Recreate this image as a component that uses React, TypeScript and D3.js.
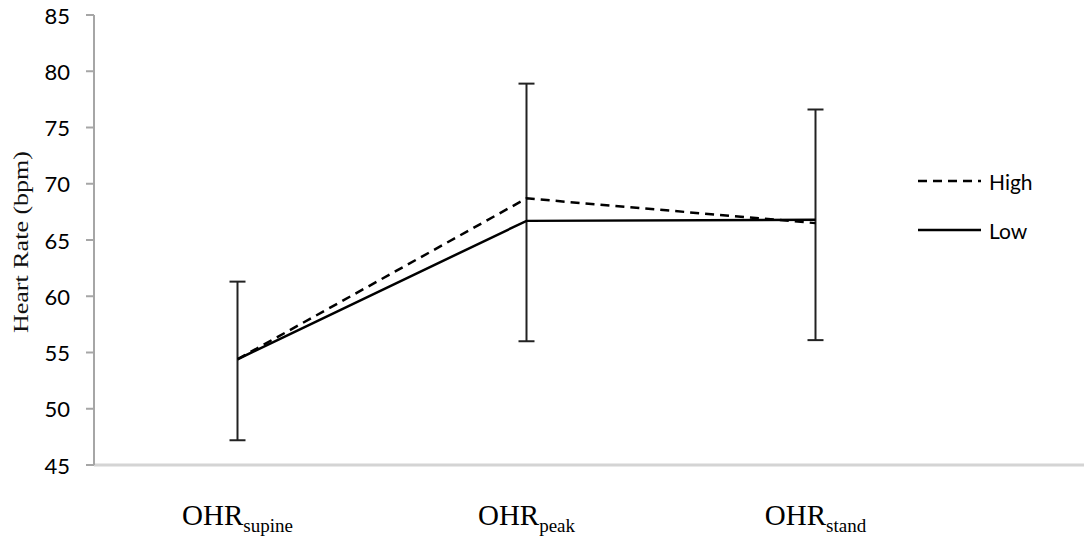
import * as d3 from 'd3'
import React, { useRef, useEffect } from 'react'

const categories = ['supine', 'peak', 'stand']
const highMeans = [54.4, 68.7, 66.5]
const lowMeans = [54.4, 66.7, 66.8]
const errUpper = [61.3, 78.9, 76.6]
const errLower = [47.2, 56.0, 56.1]
const yTicks = [45, 50, 55, 60, 65, 70, 75, 80, 85]

const W = 1084
const H = 540

const App = () => {
  const ref = useRef<SVGGElement>(null)

  useEffect(() => {
    const g = d3.select(ref.current)
    g.selectAll('*').remove()

    const x = d3.scaleBand().domain(categories).range([93, 960])
    const y = d3.scaleLinear().domain([45, 85]).range([465, 15])
    const cx = (c: string) => (x(c) as number) + x.bandwidth() / 2

    // x axis line
    g.append('line')
      .attr('x1', 94).attr('x2', W)
      .attr('y1', y(45)).attr('y2', y(45))
      .attr('stroke', '#d4d4d4').attr('stroke-width', 3)

    // y axis
    const yAxis = g.append('g')
    yAxis.append('line')
      .attr('x1', 94).attr('x2', 94)
      .attr('y1', y(85)).attr('y2', y(45))
      .attr('stroke', '#a6a6a6').attr('stroke-width', 2)
    yAxis.selectAll('line.tick').data(yTicks).enter().append('line')
      .attr('class', 'tick')
      .attr('x1', 86).attr('x2', 94)
      .attr('y1', d => y(d)).attr('y2', d => y(d))
      .attr('stroke', '#a6a6a6').attr('stroke-width', 2)
    yAxis.selectAll('text').data(yTicks).enter().append('text')
      .attr('x', 70).attr('y', d => y(d))
      .attr('text-anchor', 'end')
      .attr('dominant-baseline', 'central')
      .style('font-family', 'Lato, "Open Sans", sans-serif')
      .style('font-size', '22px')
      .style('fill', '#000')
      .text(d => d)

    // y title
    g.append('text')
      .attr('transform', `translate(28 ${242}) rotate(-90)`)
      .attr('text-anchor', 'middle')
      .attr('textLength', 182)
      .attr('lengthAdjust', 'spacingAndGlyphs')
      .style('font-family', '"Liberation Serif", "Times New Roman", serif')
      .style('font-size', '20px')
      .style('fill', '#111')
      .text('Heart Rate (bpm)')

    // x labels
    const xl = g.selectAll('text.xl').data(categories).enter().append('text')
      .attr('class', 'xl')
      .attr('x', d => cx(d)).attr('y', 525)
      .attr('text-anchor', 'middle')
      .style('font-family', '"Liberation Serif", "Times New Roman", serif')
      .style('fill', '#000')
    xl.append('tspan').style('font-size', '29px').text('OHR')
    xl.append('tspan').attr('dy', 7).style('font-size', '19px').text(d => d)

    // error bars
    const eb = g.selectAll('g.eb').data(categories).enter().append('g').attr('class', 'eb')
    eb.append('line')
      .attr('x1', d => cx(d)).attr('x2', d => cx(d))
      .attr('y1', (d, i) => y(errUpper[i])).attr('y2', (d, i) => y(errLower[i]))
      .attr('stroke', '#222').attr('stroke-width', 2)
    eb.append('line')
      .attr('x1', d => cx(d) - 8).attr('x2', d => cx(d) + 8)
      .attr('y1', (d, i) => y(errUpper[i])).attr('y2', (d, i) => y(errUpper[i]))
      .attr('stroke', '#222').attr('stroke-width', 2)
    eb.append('line')
      .attr('x1', d => cx(d) - 8).attr('x2', d => cx(d) + 8)
      .attr('y1', (d, i) => y(errLower[i])).attr('y2', (d, i) => y(errLower[i]))
      .attr('stroke', '#222').attr('stroke-width', 2)

    const line = d3.line<number>()
      .x((d, i) => cx(categories[i]))
      .y(d => y(d))

    g.append('path').datum(highMeans)
      .attr('d', line)
      .attr('fill', 'none').attr('stroke', '#000')
      .attr('stroke-width', 2.5)
      .attr('stroke-dasharray', '9 6')
    g.append('path').datum(lowMeans)
      .attr('d', line)
      .attr('fill', 'none').attr('stroke', '#000')
      .attr('stroke-width', 2.5)

    // legend
    const legend = [
      { name: 'High', dash: '9 6', y: 181 },
      { name: 'Low', dash: null, y: 230 },
    ]
    const lg = g.selectAll('g.lg').data(legend).enter().append('g').attr('class', 'lg')
    lg.append('line')
      .attr('x1', 918).attr('x2', 981)
      .attr('y1', d => d.y).attr('y2', d => d.y)
      .attr('stroke', '#000').attr('stroke-width', 2.5)
      .attr('stroke-dasharray', d => d.dash)
    lg.append('text')
      .attr('x', 989).attr('y', d => d.y)
      .attr('dominant-baseline', 'central')
      .style('font-family', 'Lato, "Open Sans", sans-serif')
      .style('font-size', '21px')
      .style('fill', '#000')
      .text(d => d.name)
  }, [])

  return (
    <svg width={W} height={H} style={{ position: 'absolute', left: 0, top: 0, background: '#fff' }}>
      <g ref={ref} />
    </svg>
  )
}

export default App
